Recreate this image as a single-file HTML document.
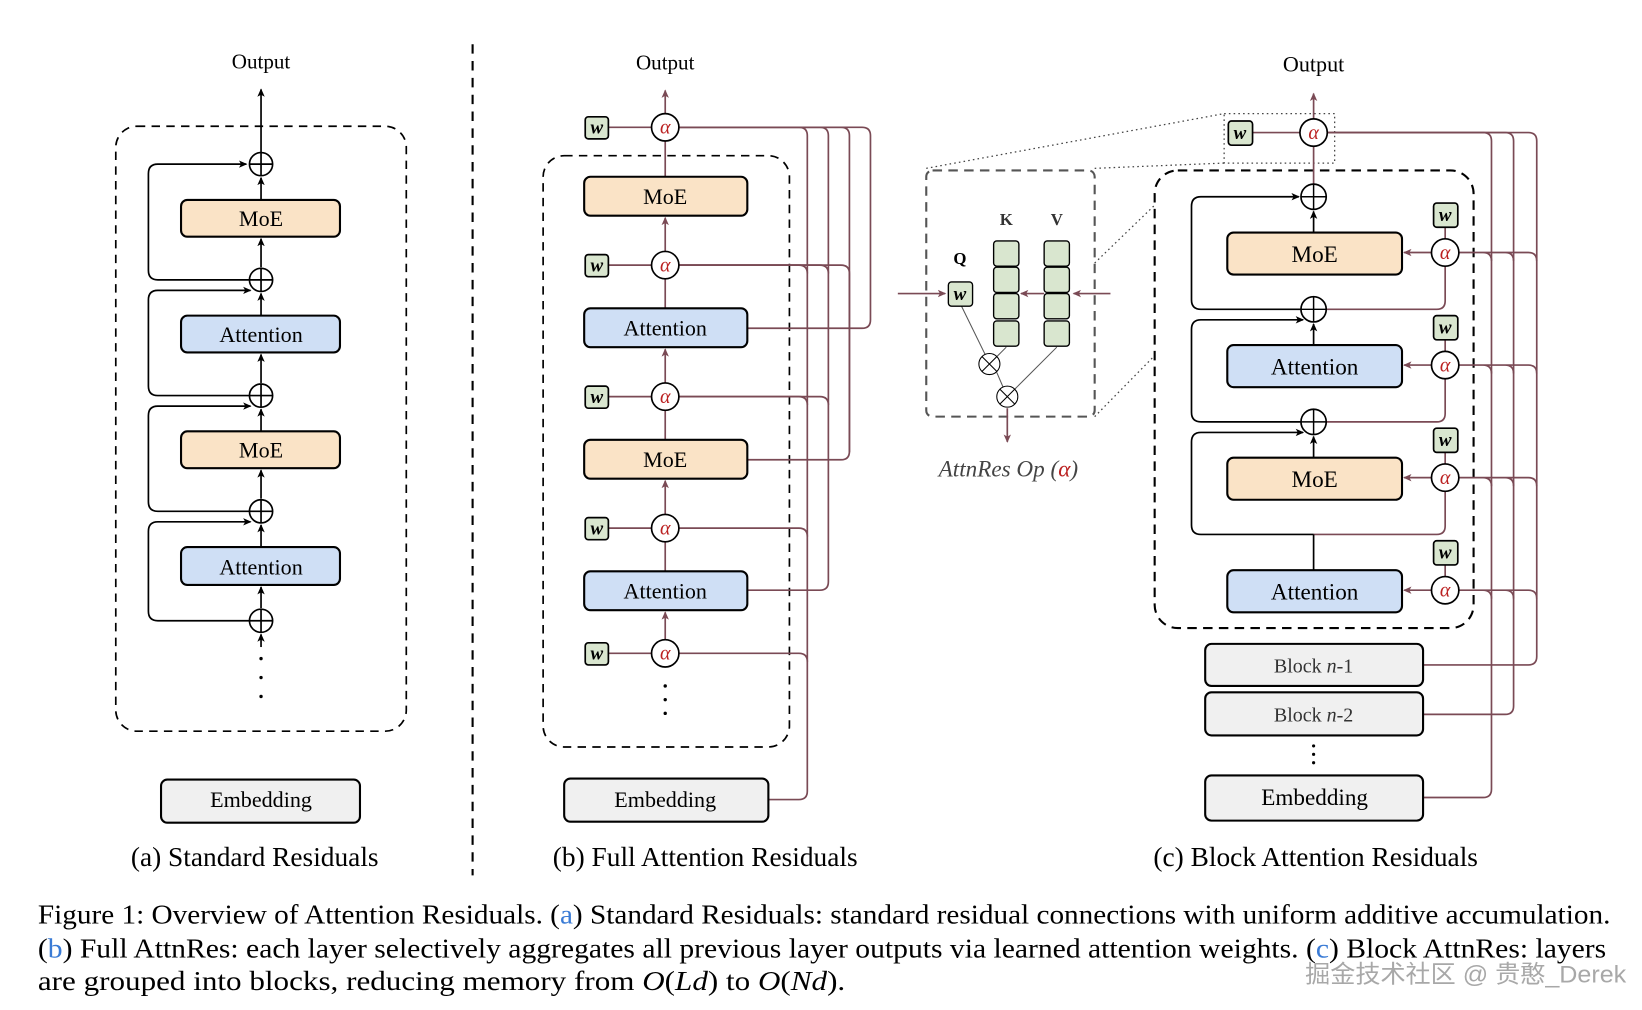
<!DOCTYPE html>
<html><head><meta charset="utf-8"><style>html,body{margin:0;padding:0;background:#fff}svg{display:block}</style></head><body>
<svg width="1642" height="1010" viewBox="0 0 1560 960" preserveAspectRatio="none" xmlns="http://www.w3.org/2000/svg" font-family="Liberation Serif, serif">
<defs>
<marker id="ab" markerWidth="8" markerHeight="8" refX="7" refY="4" orient="auto" markerUnits="userSpaceOnUse"><path d="M0,0.5 L8,4 L0,7.5 L2,4z" fill="#000"/></marker>
<marker id="am" markerWidth="8" markerHeight="8" refX="7" refY="4" orient="auto" markerUnits="userSpaceOnUse"><path d="M0,0.5 L8,4 L0,7.5 L2,4z" fill="#7a4a55"/></marker>
</defs>
<g fill="none" stroke-width="1.6">
<!-- ===== (a) ===== -->
<text x="248" y="65" font-size="20" text-anchor="middle" fill="#000" stroke="none">Output</text>
<rect x="110" y="120" width="276" height="575" rx="20" stroke="#000" stroke-dasharray="8,6"/>
<line x1="248" y1="145" x2="248" y2="85" stroke="#000" marker-end="url(#ab)"/>
<g stroke="#000">
<line x1="248" y1="190" x2="248" y2="169" marker-end="url(#ab)"/>
<line x1="248" y1="254" x2="248" y2="227" marker-end="url(#ab)"/>
<line x1="248" y1="300" x2="248" y2="279" marker-end="url(#ab)"/>
<line x1="248" y1="364" x2="248" y2="337" marker-end="url(#ab)"/>
<line x1="248" y1="410" x2="248" y2="389" marker-end="url(#ab)"/>
<line x1="248" y1="474" x2="248" y2="447" marker-end="url(#ab)"/>
<line x1="248" y1="520" x2="248" y2="499" marker-end="url(#ab)"/>
<line x1="248" y1="578" x2="248" y2="558" marker-end="url(#ab)"/>
<line x1="248" y1="615" x2="248" y2="603" marker-end="url(#ab)"/>
<path d="M237,266 H150 Q141,266 141,257 V165 Q141,156 150,156 H234" marker-end="url(#ab)"/>
<path d="M237,376 H150 Q141,376 141,367 V285 Q141,276 150,276 H238" marker-end="url(#ab)"/>
<path d="M237,486 H150 Q141,486 141,477 V395 Q141,386 150,386 H238" marker-end="url(#ab)"/>
<path d="M237,590 H150 Q141,590 141,581 V505 Q141,496 150,496 H238" marker-end="url(#ab)"/>
</g>
<g stroke="#000" fill="#fff">
<circle cx="248" cy="156" r="11"/><circle cx="248" cy="266" r="11"/><circle cx="248" cy="376" r="11"/><circle cx="248" cy="486" r="11"/><circle cx="248" cy="590" r="11"/>
</g>
<g stroke="#000">
<path d="M237,156h22M248,145v22M237,266h22M248,255v22M237,376h22M248,365v22M237,486h22M248,475v22M237,590h22M248,579v22"/>
</g>
<g stroke="#000" stroke-width="2">
<rect x="172" y="190" width="151" height="35" rx="6" fill="#fae3c6"/>
<rect x="172" y="300" width="151" height="35" rx="6" fill="#cfdff5"/>
<rect x="172" y="410" width="151" height="35" rx="6" fill="#fae3c6"/>
<rect x="172" y="520" width="151" height="36" rx="6" fill="#cfdff5"/>
<rect x="153" y="741" width="189" height="41" rx="6" fill="#f0f0f0"/>
</g>
<g fill="#000" stroke="none" font-size="21" text-anchor="middle">
<text x="248" y="215">MoE</text><text x="248" y="325">Attention</text><text x="248" y="435">MoE</text><text x="248" y="546">Attention</text><text x="248" y="767">Embedding</text>
<circle cx="248" cy="626" r="1.6"/><circle cx="248" cy="644" r="1.6"/><circle cx="248" cy="662" r="1.6"/>
<text x="242" y="823" font-size="26">(a) Standard Residuals</text>
</g>
<line x1="449" y1="42" x2="449" y2="832" stroke="#000" stroke-dasharray="9,7" stroke-width="2"/>

<!-- ===== (b) ===== -->
<text x="632" y="66" font-size="20" text-anchor="middle" fill="#000" stroke="none">Output</text>
<rect x="516" y="148" width="234" height="562" rx="20" stroke="#000" stroke-dasharray="8,6"/>
<g stroke="#7a4a55">
<line x1="632" y1="108" x2="632" y2="86" marker-end="url(#am)"/>
<line x1="632" y1="168" x2="632" y2="134"/>
<line x1="632" y1="239" x2="632" y2="207" marker-end="url(#am)"/>
<line x1="632" y1="293" x2="632" y2="265"/>
<line x1="632" y1="364" x2="632" y2="332" marker-end="url(#am)"/>
<line x1="632" y1="418" x2="632" y2="390"/>
<line x1="632" y1="489" x2="632" y2="457" marker-end="url(#am)"/>
<line x1="632" y1="543" x2="632" y2="515"/>
<line x1="632" y1="608" x2="632" y2="582" marker-end="url(#am)"/>
<path d="M578,121H619M578,252H619M578,377H619M578,502H619M578,621H619"/>
<path d="M645,121 H819 Q827,121 827,129 V304 Q827,312 819,312 H710"/>
<path d="M645,121 H799 Q807,121 807,129 V429 Q807,437 799,437 H710"/>
<path d="M645,121 H779 Q787,121 787,129 V553 Q787,561 779,561 H710"/>
<path d="M645,121 H759 Q767,121 767,129 V752 Q767,760 759,760 H730"/>
<path d="M645,252 H799 Q807,252 807,260 V430"/>
<path d="M645,252 H779 Q787,252 787,260"/>
<path d="M645,252 H759 Q767,252 767,260"/>
<path d="M645,377 H779 Q787,377 787,385"/>
<path d="M645,377 H759 Q767,377 767,385"/>
<path d="M645,502 H759 Q767,502 767,510"/>
<path d="M645,621 H759 Q767,621 767,629"/>
</g>
<g stroke="#000" stroke-width="1.6" fill="#fff">
<circle cx="632" cy="121" r="13"/><circle cx="632" cy="252" r="13"/><circle cx="632" cy="377" r="13"/><circle cx="632" cy="502" r="13"/><circle cx="632" cy="621" r="13"/>
</g>
<g stroke="#000" stroke-width="1.6" fill="#d9e6cf">
<rect x="556" y="111" width="22" height="21" rx="3"/><rect x="556" y="242" width="22" height="21" rx="3"/><rect x="556" y="367" width="22" height="21" rx="3"/><rect x="556" y="492" width="22" height="21" rx="3"/><rect x="556" y="611" width="22" height="21" rx="3"/>
</g>
<g stroke="#000" stroke-width="2">
<rect x="555" y="168" width="155" height="37" rx="6" fill="#fae3c6"/>
<rect x="555" y="293" width="155" height="37" rx="6" fill="#cfdff5"/>
<rect x="555" y="418" width="155" height="37" rx="6" fill="#fae3c6"/>
<rect x="555" y="543" width="155" height="37" rx="6" fill="#cfdff5"/>
<rect x="536" y="740" width="194" height="41" rx="6" fill="#f0f0f0"/>
</g>
<g stroke="none" text-anchor="middle">
<g fill="#b22" font-size="19" font-style="italic"><text x="632" y="127">α</text><text x="632" y="258">α</text><text x="632" y="383">α</text><text x="632" y="508">α</text><text x="632" y="627">α</text></g>
<g fill="#000" font-size="18" font-weight="bold" font-style="italic"><text x="567" y="127">w</text><text x="567" y="258">w</text><text x="567" y="383">w</text><text x="567" y="508">w</text><text x="567" y="627">w</text></g>
<g fill="#000" font-size="21"><text x="632" y="194">MoE</text><text x="632" y="319">Attention</text><text x="632" y="444">MoE</text><text x="632" y="569">Attention</text><text x="632" y="767">Embedding</text>
<circle cx="632" cy="652" r="1.6"/><circle cx="632" cy="665" r="1.6"/><circle cx="632" cy="678" r="1.6"/>
<text x="670" y="823" font-size="26">(b) Full Attention Residuals</text></g>
</g>

<!-- ===== zoom op ===== -->
<g stroke="#444" stroke-width="1.2" stroke-dasharray="1.5,3">
<rect x="1163" y="108" width="105" height="47"/>
<line x1="880" y1="160" x2="1163" y2="108"/>
<line x1="1040" y1="160" x2="1163" y2="155"/>
<line x1="1040" y1="250" x2="1097" y2="195"/>
<line x1="1040" y1="396" x2="1097" y2="338"/>
</g>
<rect x="880" y="162" width="160" height="234" rx="6" stroke="#555" stroke-width="2" stroke-dasharray="9,6"/>
<g stroke="#7a4a55">
<line x1="853" y1="279" x2="898" y2="279" marker-end="url(#am)"/>
<line x1="1055" y1="279" x2="1020" y2="279" marker-end="url(#am)"/>
<line x1="992" y1="279" x2="970" y2="279" marker-end="url(#am)"/>
<line x1="957" y1="388" x2="957" y2="420" marker-end="url(#am)"/>
</g>
<g stroke="#555" stroke-width="1">
<line x1="913" y1="290" x2="936" y2="337"/><line x1="956" y1="330" x2="946" y2="340"/><line x1="947" y1="354" x2="953" y2="368"/><line x1="1004" y1="330" x2="964" y2="370"/>
</g>
<g stroke="#000" stroke-width="1.3" fill="#d9e6cf">
<rect x="944" y="229" width="24" height="24" rx="3"/><rect x="944" y="254" width="24" height="24" rx="3"/><rect x="944" y="279" width="24" height="24" rx="3"/><rect x="944" y="305" width="24" height="24" rx="3"/>
<rect x="992" y="229" width="24" height="24" rx="3"/><rect x="992" y="254" width="24" height="24" rx="3"/><rect x="992" y="279" width="24" height="24" rx="3"/><rect x="992" y="305" width="24" height="24" rx="3"/>
<rect x="901" y="268" width="23" height="23" rx="3"/>
</g>
<g stroke="#000" stroke-width="1" fill="#fff">
<circle cx="940" cy="346" r="10"/><circle cx="957" cy="377" r="10"/>
</g>
<path d="M933,339l14,14M947,339l-14,14M950,370l14,14M964,370l-14,14" stroke="#000" stroke-width="1"/>
<g stroke="none" text-anchor="middle">
<text x="912" y="251" font-size="16" font-weight="bold" fill="#000">Q</text>
<text x="956" y="214" font-size="16" font-weight="bold" fill="#333">K</text>
<text x="1004" y="214" font-size="16" font-weight="bold" fill="#333">V</text>
<text x="912" y="285" font-size="18" font-weight="bold" font-style="italic" fill="#000">w</text>
<text x="958" y="453" font-size="22" font-style="italic" fill="#444">AttnRes Op (<tspan fill="#b22">α</tspan>)</text>
</g>

<!-- ===== (c) ===== -->
<text x="1248" y="68" font-size="21" text-anchor="middle" fill="#000" stroke="none">Output</text>
<rect x="1097" y="162" width="303" height="435" rx="22" stroke="#000" stroke-width="2" stroke-dasharray="9,6"/>
<g stroke="#7a4a55">
<line x1="1248" y1="113" x2="1248" y2="89" marker-end="url(#am)"/>
<line x1="1248" y1="175" x2="1248" y2="139"/>
<line x1="1189" y1="126" x2="1235" y2="126"/>
<path d="M1373,253 V286 Q1373,294 1365,294 H1260"/>
<path d="M1373,360 V393 Q1373,401 1365,401 H1260"/>
<path d="M1373,467 V500 Q1373,508 1365,508 H1248"/>
<path d="M1373,216V227M1373,323V334M1373,430V441M1373,537V548"/>
<line x1="1360" y1="240" x2="1334" y2="240" marker-end="url(#am)"/>
<line x1="1360" y1="347" x2="1334" y2="347" marker-end="url(#am)"/>
<line x1="1360" y1="454" x2="1334" y2="454" marker-end="url(#am)"/>
<line x1="1360" y1="561" x2="1334" y2="561" marker-end="url(#am)"/>
<path d="M1261,126 H1452 Q1460,126 1460,134 V624 Q1460,632 1452,632 H1352"/>
<path d="M1261,126 H1430 Q1438,126 1438,134 V671 Q1438,679 1430,679 H1352"/>
<path d="M1261,126 H1409 Q1417,126 1417,134 V750 Q1417,758 1409,758 H1352"/>
<path d="M1386,240H1409Q1417,240 1417,248M1386,240H1430Q1438,240 1438,248M1386,240H1452Q1460,240 1460,248"/>
<path d="M1386,347H1409Q1417,347 1417,355M1386,347H1430Q1438,347 1438,355M1386,347H1452Q1460,347 1460,355"/>
<path d="M1386,454H1409Q1417,454 1417,462M1386,454H1430Q1438,454 1438,462M1386,454H1452Q1460,454 1460,462"/>
<path d="M1386,561H1409Q1417,561 1417,569M1386,561H1430Q1438,561 1438,569M1386,561H1452Q1460,561 1460,569"/>
</g>
<g stroke="#000">
<line x1="1248" y1="221" x2="1248" y2="201" marker-end="url(#ab)"/>
<line x1="1248" y1="328" x2="1248" y2="308" marker-end="url(#ab)"/>
<line x1="1248" y1="435" x2="1248" y2="415" marker-end="url(#ab)"/>
<line x1="1248" y1="508" x2="1248" y2="542"/>
<path d="M1236,294 H1141 Q1132,294 1132,285 V196 Q1132,187 1141,187 H1234" marker-end="url(#ab)"/>
<path d="M1236,401 H1141 Q1132,401 1132,392 V313 Q1132,304 1141,304 H1238" marker-end="url(#ab)"/>
<path d="M1248,508 H1141 Q1132,508 1132,499 V420 Q1132,411 1141,411 H1238" marker-end="url(#ab)"/>
</g>
<g stroke="#000" stroke-width="1.6" fill="#fff">
<circle cx="1248" cy="126" r="13"/>
<circle cx="1248" cy="187" r="12"/><circle cx="1248" cy="294" r="12"/><circle cx="1248" cy="401" r="12"/>
<circle cx="1373" cy="240" r="13"/><circle cx="1373" cy="347" r="13"/><circle cx="1373" cy="454" r="13"/><circle cx="1373" cy="561" r="13"/>
</g>
<path d="M1236,187h24M1248,175v24M1236,294h24M1248,282v24M1236,401h24M1248,389v24" stroke="#000" stroke-width="1.4"/>
<g stroke="#000" stroke-width="1.6" fill="#d9e6cf">
<rect x="1167" y="115" width="23" height="23" rx="3"/>
<rect x="1362" y="193" width="23" height="23" rx="3"/><rect x="1362" y="300" width="23" height="23" rx="3"/><rect x="1362" y="407" width="23" height="23" rx="3"/><rect x="1362" y="514" width="23" height="23" rx="3"/>
</g>
<g stroke="#000" stroke-width="2">
<rect x="1166" y="221" width="166" height="40" rx="6" fill="#fae3c6"/>
<rect x="1166" y="328" width="166" height="40" rx="6" fill="#cfdff5"/>
<rect x="1166" y="435" width="166" height="40" rx="6" fill="#fae3c6"/>
<rect x="1166" y="542" width="166" height="40" rx="6" fill="#cfdff5"/>
<rect x="1145" y="612" width="207" height="40" rx="6" fill="#f0f0f0"/>
<rect x="1145" y="658" width="207" height="41" rx="6" fill="#f0f0f0"/>
<rect x="1145" y="737" width="207" height="43" rx="6" fill="#f0f0f0"/>
</g>
<g stroke="none" text-anchor="middle">
<g fill="#b22" font-size="19" font-style="italic"><text x="1248" y="132">α</text><text x="1373" y="246">α</text><text x="1373" y="353">α</text><text x="1373" y="460">α</text><text x="1373" y="567">α</text></g>
<g fill="#000" font-size="18" font-weight="bold" font-style="italic"><text x="1178" y="132">w</text><text x="1373" y="210">w</text><text x="1373" y="317">w</text><text x="1373" y="424">w</text><text x="1373" y="531">w</text></g>
<g fill="#000" font-size="22"><text x="1249" y="249">MoE</text><text x="1249" y="356">Attention</text><text x="1249" y="463">MoE</text><text x="1249" y="570">Attention</text><text x="1249" y="765">Embedding</text></g>
<g fill="#333" font-size="19"><text x="1248" y="639">Block <tspan font-style="italic">n</tspan>-1</text><text x="1248" y="686">Block <tspan font-style="italic">n</tspan>-2</text></g>
<g fill="#000"><circle cx="1248" cy="709" r="1.5"/><circle cx="1248" cy="717" r="1.5"/><circle cx="1248" cy="725" r="1.5"/></g>
<text x="1250" y="823" font-size="26" fill="#000">(c) Block Attention Residuals</text>
</g>
</g>
<!-- caption -->
<g font-size="26" fill="#000">
<text x="36" y="878" textLength="1494" lengthAdjust="spacingAndGlyphs">Figure 1: Overview of Attention Residuals. (<tspan fill="#3a7bd5">a</tspan>) Standard Residuals: standard residual connections with uniform additive accumulation.</text>
<text x="36" y="910" textLength="1490" lengthAdjust="spacingAndGlyphs">(<tspan fill="#3a7bd5">b</tspan>) Full AttnRes: each layer selectively aggregates all previous layer outputs via learned attention weights. (<tspan fill="#3a7bd5">c</tspan>) Block AttnRes: layers</text>
<text x="36" y="941" textLength="767" lengthAdjust="spacingAndGlyphs">are grouped into blocks, reducing memory from <tspan font-style="italic">O</tspan>(<tspan font-style="italic">Ld</tspan>) to <tspan font-style="italic">O</tspan>(<tspan font-style="italic">Nd</tspan>).</text>
</g>
<text x="1240" y="934" font-size="23" fill="#999" opacity="0.85" font-family="Liberation Sans, Noto Sans CJK SC, sans-serif" textLength="305" lengthAdjust="spacingAndGlyphs">掘金技术社区 @ 贵憨_Derek</text>
</svg>
</body></html>
